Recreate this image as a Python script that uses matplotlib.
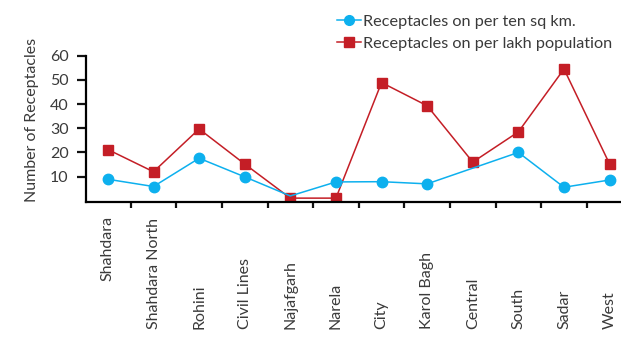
import matplotlib.pyplot as plt
from matplotlib.lines import Line2D
import numpy as np

plt.rcParams['font.family'] = ['Lato', 'DejaVu Sans']
plt.rcParams['text.color'] = '#3a3a3a'
plt.rcParams['xtick.color'] = '#111111'
plt.rcParams['ytick.color'] = '#111111'
plt.rcParams['ytick.labelcolor'] = '#3a3a3a'

# zones and counts
zones = ["Shahdara", "Shahdara North", "Rohini", "Civil Lines", "Najafgarh", "Narela",
         "City", "Karol Bagh", "Central", "South", "Sadar", "West"]
per_ten_sq_km = [8.9, 5.9, 17.6, 9.9, 2.0, 7.8, 7.9, 7.0, None, 20.0, 5.6, 8.6]
per_lakh_pop = [21.2, 12.0, 29.7, 15.2, 1.1, 1.1, 48.9, 39.3, 16.0, 28.5, 54.5, 15.2]

BLUE = '#0db0ee'
RED = '#c41e26'

fig = plt.figure(figsize=(6.21, 3.38), dpi=100)
ax = fig.add_axes([86/621, 136/338, 535/621, 146.3/338])

x = np.arange(len(zones))

# blue series: skip zones with no value, no marker at Najafgarh
bx = [i for i, v in enumerate(per_ten_sq_km) if v is not None]
by = [per_ten_sq_km[i] for i in bx]
marks = [k for k, i in enumerate(bx) if zones[i] != "Najafgarh"]
ax.plot(bx, by, color=BLUE, lw=1.1, marker='o', ms=7.5, markevery=marks, zorder=3)

ax.plot(x, per_lakh_pop, color=RED, lw=1.1, marker='s', ms=6.8, zorder=2)

ax.set_xlim(-0.48, 11.25)
ax.set_ylim(-0.5, 60)

ax.spines['top'].set_visible(False)
ax.spines['right'].set_visible(False)
ax.spines['left'].set_linewidth(1.6)
ax.spines['bottom'].set_linewidth(1.6)
ax.spines['left'].set_bounds(-0.5, 60)

ax.set_yticks([10, 20, 30, 40, 50, 60])
ax.tick_params(axis='y', direction='out', length=6.5, width=1.6, pad=6, labelsize=11.5)

# tick marks sit between zones, labels sit under the points
ax.set_xticks(x[:-1] + 0.5)
ax.set_xticklabels([])
ax.tick_params(axis='x', direction='out', length=4, width=1.6)

tr = ax.get_xaxis_transform()
for i, name in enumerate(zones):
    if i == 0:
        ax.text(i, -14/146.3, name, rotation=90, ha='center', va='top',
                fontsize=11.5, transform=tr)
    else:
        ax.text(i, (9 - 136)/146.3, name, rotation=90, ha='center', va='bottom',
                fontsize=11.5, transform=tr)

fig.text(32/621, 1 - 120/338, "Number of Receptacles", rotation=90,
         ha='center', va='center', fontsize=11.5)

handles = [Line2D([], [], color=BLUE, lw=1.1, marker='o', ms=7),
           Line2D([], [], color=RED, lw=1.1, marker='s', ms=6.5)]
leg = fig.legend(handles, ["Receptacles on per ten sq km.", "Receptacles on per lakh population"],
                 loc='upper left', bbox_to_anchor=(322/621, 1 - 0/338), frameon=False,
                 fontsize=11.7, handlelength=1.5, handletextpad=0.15, labelspacing=0.45)

fig.savefig('out.png', dpi=100)
